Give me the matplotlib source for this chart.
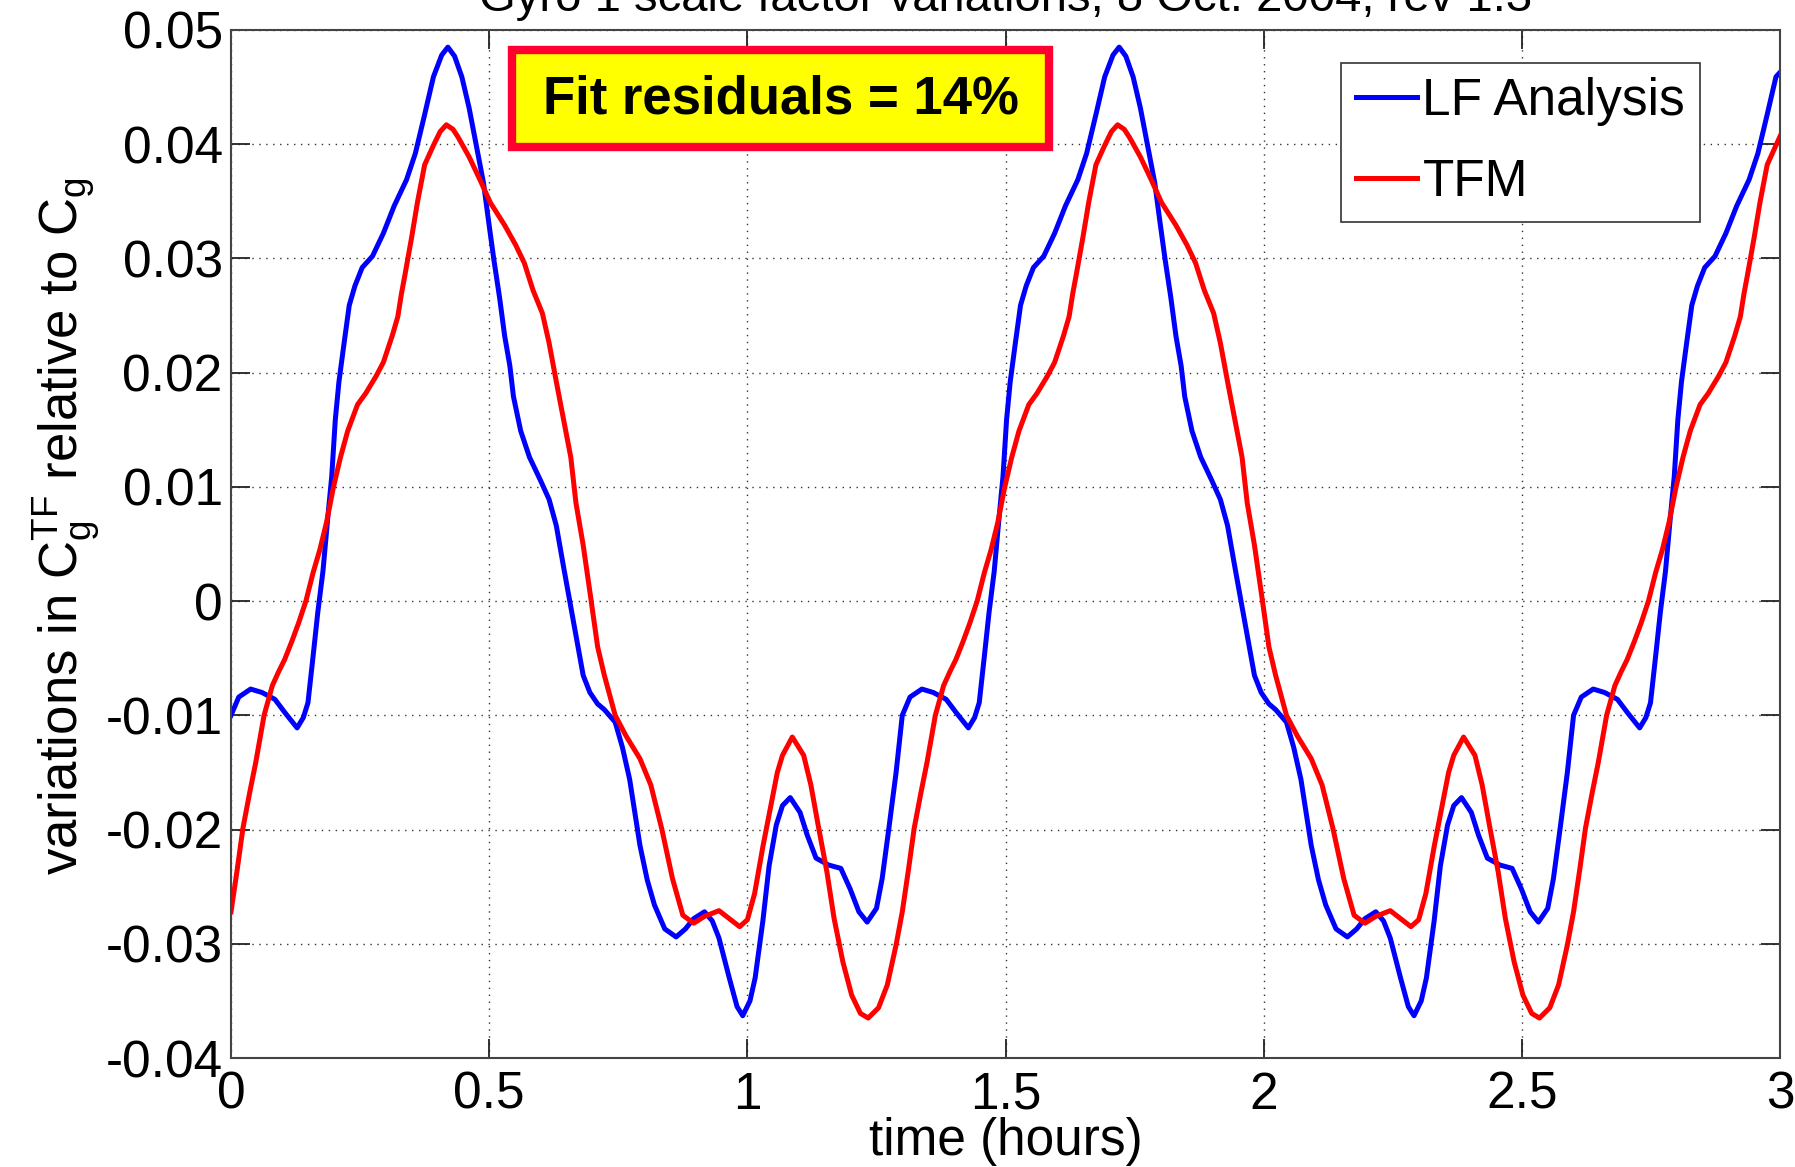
import matplotlib
matplotlib.use("Agg")
import matplotlib.pyplot as plt
from matplotlib.patches import Rectangle

plt.rcParams['font.family'] = ['Liberation Sans', 'DejaVu Sans']
plt.rcParams['mathtext.fontset'] = 'custom'
plt.rcParams['mathtext.rm'] = 'Liberation Sans'
plt.rcParams['mathtext.it'] = 'Liberation Sans'

# LF Analysis (blue)
lf_time = [
    0.000, 0.015, 0.038, 0.060, 0.085, 0.105, 0.128, 0.140, 0.149, 0.159, 0.168, 0.178,
    0.188, 0.195, 0.202, 0.209, 0.219, 0.229, 0.240, 0.254, 0.274, 0.295, 0.316, 0.340,
    0.357, 0.375, 0.392, 0.408, 0.420, 0.433, 0.447, 0.461, 0.475, 0.489, 0.499, 0.509,
    0.520, 0.530, 0.540, 0.547, 0.561, 0.578, 0.599, 0.616, 0.630, 0.644, 0.656, 0.668,
    0.682, 0.695, 0.710, 0.723, 0.744, 0.758, 0.772, 0.792, 0.806, 0.820, 0.840, 0.862,
    0.880, 0.896, 0.917, 0.932, 0.945, 0.965, 0.980, 0.991, 1.005, 1.015, 1.030, 1.042,
    1.056, 1.068, 1.083, 1.102, 1.116, 1.133, 1.157, 1.181, 1.199, 1.216, 1.232, 1.250,
    1.261, 1.274, 1.288,
    1.300, 1.315, 1.338, 1.360, 1.385, 1.405, 1.428, 1.440, 1.449, 1.459, 1.468, 1.478,
    1.488, 1.495, 1.502, 1.509, 1.519, 1.529, 1.540, 1.554, 1.574, 1.595, 1.616, 1.640,
    1.657, 1.675, 1.692, 1.708, 1.720, 1.733, 1.747, 1.761, 1.775, 1.789, 1.799, 1.809,
    1.820, 1.830, 1.840, 1.847, 1.861, 1.878, 1.899, 1.916, 1.930, 1.944, 1.956, 1.968,
    1.982, 1.995, 2.010, 2.023, 2.044, 2.058, 2.072, 2.092, 2.106, 2.120, 2.140, 2.162,
    2.180, 2.196, 2.217, 2.232, 2.245, 2.265, 2.280, 2.291, 2.305, 2.315, 2.330, 2.342,
    2.356, 2.368, 2.383, 2.402, 2.416, 2.433, 2.457, 2.481, 2.499, 2.516, 2.532, 2.550,
    2.561, 2.574, 2.588,
    2.600, 2.615, 2.638, 2.660, 2.685, 2.705, 2.728, 2.740, 2.749, 2.759, 2.768, 2.778,
    2.788, 2.795, 2.802, 2.809, 2.819, 2.829, 2.840, 2.854, 2.874, 2.895, 2.916, 2.940,
    2.957, 2.975, 2.992, 3.000,
]
lf_vals = [
    -0.0100, -0.0084, -0.0077, -0.0080, -0.0086, -0.0098, -0.0111, -0.0102, -0.0089, -0.0048, -0.0010, 0.0026,
    0.0076, 0.0109, 0.0159, 0.0192, 0.0226, 0.0259, 0.0276, 0.0292, 0.0302, 0.0322, 0.0346, 0.0369,
    0.0392, 0.0426, 0.0459, 0.0478, 0.0485, 0.0477, 0.0459, 0.0432, 0.0399, 0.0366, 0.0332, 0.0299,
    0.0266, 0.0232, 0.0206, 0.0179, 0.0149, 0.0126, 0.0106, 0.0089, 0.0066, 0.0030, 0.0000, -0.0030,
    -0.0065, -0.0080, -0.0090, -0.0095, -0.0106, -0.0128, -0.0156, -0.0214, -0.0244, -0.0266, -0.0287, -0.0294,
    -0.0287, -0.0278, -0.0272, -0.0280, -0.0295, -0.0330, -0.0355, -0.0363, -0.0350, -0.0330, -0.0280, -0.0232,
    -0.0196, -0.0179, -0.0172, -0.0185, -0.0205, -0.0225, -0.0231, -0.0234, -0.0252, -0.0272, -0.0281, -0.0269,
    -0.0243, -0.0199, -0.0150,
    -0.0100, -0.0084, -0.0077, -0.0080, -0.0086, -0.0098, -0.0111, -0.0102, -0.0089, -0.0048, -0.0010, 0.0026,
    0.0076, 0.0109, 0.0159, 0.0192, 0.0226, 0.0259, 0.0276, 0.0292, 0.0302, 0.0322, 0.0346, 0.0369,
    0.0392, 0.0426, 0.0459, 0.0478, 0.0485, 0.0477, 0.0459, 0.0432, 0.0399, 0.0366, 0.0332, 0.0299,
    0.0266, 0.0232, 0.0206, 0.0179, 0.0149, 0.0126, 0.0106, 0.0089, 0.0066, 0.0030, 0.0000, -0.0030,
    -0.0065, -0.0080, -0.0090, -0.0095, -0.0106, -0.0128, -0.0156, -0.0214, -0.0244, -0.0266, -0.0287, -0.0294,
    -0.0287, -0.0278, -0.0272, -0.0280, -0.0295, -0.0330, -0.0355, -0.0363, -0.0350, -0.0330, -0.0280, -0.0232,
    -0.0196, -0.0179, -0.0172, -0.0185, -0.0205, -0.0225, -0.0231, -0.0234, -0.0252, -0.0272, -0.0281, -0.0269,
    -0.0243, -0.0199, -0.0150,
    -0.0100, -0.0084, -0.0077, -0.0080, -0.0086, -0.0098, -0.0111, -0.0102, -0.0089, -0.0048, -0.0010, 0.0026,
    0.0076, 0.0109, 0.0159, 0.0192, 0.0226, 0.0259, 0.0276, 0.0292, 0.0302, 0.0322, 0.0346, 0.0369,
    0.0392, 0.0426, 0.0459, 0.0463,
]

# TFM (red)
tfm_time = [
    0.000, 0.012, 0.023, 0.036, 0.048, 0.064, 0.080, 0.092, 0.104, 0.118, 0.131, 0.145,
    0.159, 0.172, 0.185, 0.198, 0.212, 0.226, 0.245, 0.261, 0.281, 0.295, 0.312, 0.323,
    0.330, 0.337, 0.350, 0.361, 0.375, 0.392, 0.405, 0.417, 0.430, 0.440, 0.461, 0.482,
    0.502, 0.530, 0.551, 0.568, 0.585, 0.603, 0.616, 0.630, 0.644, 0.658, 0.668, 0.682,
    0.696, 0.710, 0.723, 0.744, 0.765, 0.792, 0.813, 0.834, 0.855, 0.875, 0.896, 0.917,
    0.945, 0.965, 0.985, 1.000, 1.014, 1.030, 1.045, 1.058, 1.068, 1.087, 1.109, 1.123,
    1.137, 1.154, 1.168, 1.185, 1.202, 1.219, 1.234, 1.254, 1.271, 1.288,
    1.300, 1.312, 1.323, 1.336, 1.348, 1.364, 1.380, 1.392, 1.404, 1.418, 1.431, 1.445,
    1.459, 1.472, 1.485, 1.498, 1.512, 1.526, 1.545, 1.561, 1.581, 1.595, 1.612, 1.623,
    1.630, 1.637, 1.650, 1.661, 1.675, 1.692, 1.705, 1.717, 1.730, 1.740, 1.761, 1.782,
    1.802, 1.830, 1.851, 1.868, 1.885, 1.903, 1.916, 1.930, 1.944, 1.958, 1.968, 1.982,
    1.996, 2.010, 2.023, 2.044, 2.065, 2.092, 2.113, 2.134, 2.155, 2.175, 2.196, 2.217,
    2.245, 2.265, 2.285, 2.300, 2.314, 2.330, 2.345, 2.358, 2.368, 2.387, 2.409, 2.423,
    2.437, 2.454, 2.468, 2.485, 2.502, 2.519, 2.534, 2.554, 2.571, 2.588,
    2.600, 2.612, 2.623, 2.636, 2.648, 2.664, 2.680, 2.692, 2.704, 2.718, 2.731, 2.745,
    2.759, 2.772, 2.785, 2.798, 2.812, 2.826, 2.845, 2.861, 2.881, 2.895, 2.912, 2.923,
    2.930, 2.937, 2.950, 2.961, 2.975, 2.992, 3.000,
]
tfm_vals = [
    -0.0272, -0.0235, -0.0199, -0.0168, -0.0141, -0.0100, -0.0074, -0.0062, -0.0051, -0.0035, -0.0019, 0.0000,
    0.0025, 0.0045, 0.0069, 0.0099, 0.0126, 0.0149, 0.0172, 0.0182, 0.0197, 0.0209, 0.0232, 0.0249,
    0.0269, 0.0286, 0.0319, 0.0349, 0.0382, 0.0399, 0.0411, 0.0417, 0.0413, 0.0406, 0.0389, 0.0369,
    0.0349, 0.0329, 0.0312, 0.0296, 0.0272, 0.0252, 0.0226, 0.0192, 0.0159, 0.0126, 0.0086, 0.0049,
    0.0005, -0.0040, -0.0065, -0.0100, -0.0118, -0.0138, -0.0161, -0.0199, -0.0243, -0.0275, -0.0282, -0.0276,
    -0.0271, -0.0278, -0.0285, -0.0279, -0.0256, -0.0215, -0.0180, -0.0150, -0.0135, -0.0119, -0.0135, -0.0161,
    -0.0196, -0.0237, -0.0278, -0.0316, -0.0345, -0.0361, -0.0365, -0.0356, -0.0336, -0.0301,
    -0.0272, -0.0235, -0.0199, -0.0168, -0.0141, -0.0100, -0.0074, -0.0062, -0.0051, -0.0035, -0.0019, 0.0000,
    0.0025, 0.0045, 0.0069, 0.0099, 0.0126, 0.0149, 0.0172, 0.0182, 0.0197, 0.0209, 0.0232, 0.0249,
    0.0269, 0.0286, 0.0319, 0.0349, 0.0382, 0.0399, 0.0411, 0.0417, 0.0413, 0.0406, 0.0389, 0.0369,
    0.0349, 0.0329, 0.0312, 0.0296, 0.0272, 0.0252, 0.0226, 0.0192, 0.0159, 0.0126, 0.0086, 0.0049,
    0.0005, -0.0040, -0.0065, -0.0100, -0.0118, -0.0138, -0.0161, -0.0199, -0.0243, -0.0275, -0.0282, -0.0276,
    -0.0271, -0.0278, -0.0285, -0.0279, -0.0256, -0.0215, -0.0180, -0.0150, -0.0135, -0.0119, -0.0135, -0.0161,
    -0.0196, -0.0237, -0.0278, -0.0316, -0.0345, -0.0361, -0.0365, -0.0356, -0.0336, -0.0301,
    -0.0272, -0.0235, -0.0199, -0.0168, -0.0141, -0.0100, -0.0074, -0.0062, -0.0051, -0.0035, -0.0019, 0.0000,
    0.0025, 0.0045, 0.0069, 0.0099, 0.0126, 0.0149, 0.0172, 0.0182, 0.0197, 0.0209, 0.0232, 0.0249,
    0.0269, 0.0286, 0.0319, 0.0349, 0.0382, 0.0399, 0.0407,
]

x_ticks = [0, 0.5, 1, 1.5, 2, 2.5, 3]
x_labels = ['0', '0.5', '1', '1.5', '2', '2.5', '3']
y_ticks = [-0.04, -0.03, -0.02, -0.01, 0, 0.01, 0.02, 0.03, 0.04, 0.05]
y_labels = ['-0.04', '-0.03', '-0.02', '-0.01', '0', '0.01', '0.02', '0.03', '0.04', '0.05']


def main():
    fig = plt.figure(figsize=(17.95, 11.67), dpi=100)
    ax = fig.add_axes([0.1287, 0.0934, 0.8630, 0.8809])

    ax.plot(lf_time, lf_vals, color='#0000ff', lw=3.6, label='LF Analysis')
    ax.plot(tfm_time, tfm_vals, color='#ff0000', lw=3.6, label='TFM')

    ax.set_xlim(0, 3)
    ax.set_ylim(-0.04, 0.05)
    ax.set_xticks(x_ticks)
    ax.set_xticklabels(x_labels)
    ax.set_yticks(y_ticks)
    ax.set_yticklabels(y_labels)
    ax.tick_params(direction='in', length=14, width=1.3, labelsize=37,
                   top=True, right=True, pad=6, colors='#222222', labelcolor='black')
    ax.tick_params(axis='x', pad=9)
    ax.grid(True, color='#333333', linestyle=(0, (1, 4)), linewidth=1.0)
    for s in ax.spines.values():
        s.set_linewidth(1.5)
        s.set_color('#444444')

    ax.set_xlabel('time (hours)', fontsize=37, labelpad=-2)
    ax.set_ylabel(r'variations in $\mathrm{C_g^{TF}}$ relative to $\mathrm{C_g}$',
                  fontsize=38, labelpad=2)
    ax.yaxis.set_label_coords(-0.083, 0.517)
    ax.set_title('Gyro 1 scale factor variations, 8 Oct. 2004, rev 1.3',
                 fontsize=34, pad=14)

    # annotation box
    ax.add_patch(Rectangle((0.1814, 0.8862), 0.3466, 0.0944, transform=ax.transAxes,
                           facecolor='#ffff00', edgecolor='#ff0030', lw=6, zorder=5))
    ax.text(0.3547, 0.9320, 'Fit residuals = 14%', transform=ax.transAxes,
            ha='center', va='center', fontsize=38, fontweight='bold', zorder=6)

    leg = ax.legend(loc='upper right', bbox_to_anchor=(0.948, 0.968), borderaxespad=0,
                    fontsize=37, handlelength=1.2, handletextpad=0.1, labelspacing=0.62,
                    borderpad=0.28, fancybox=False, framealpha=1, edgecolor='#333333')
    leg.get_frame().set_linewidth(1.2)

    fig.savefig('out.png', dpi=100)


if __name__ == "__main__":
    main()
